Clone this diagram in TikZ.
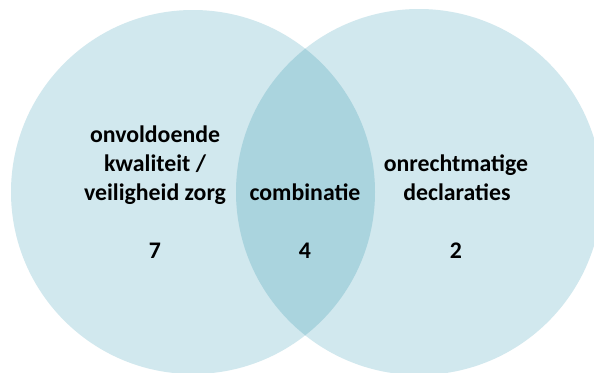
\documentclass[tikz,border=0pt]{standalone}
\usepackage{fontspec}
\setmainfont{Carlito}
\definecolor{venlight}{RGB}{209,232,238}
\definecolor{vendark}{RGB}{170,212,222}
\begin{document}
\begin{tikzpicture}[x=1pt,y=-1pt,
  lbl/.style={font=\fontsize{23.8}{29}\selectfont\bfseries, align=center, inner sep=0pt, anchor=base},
  circ/.style={fill=venlight, draw=none}]
\useasboundingbox (0,0) rectangle (594,372);
\fill[white] (0,0) rectangle (594,372);
\path[circ] (193,192) circle[radius=182];
\path[circ] (419,192) circle[radius=183];
\begin{scope}
  \clip (193,192) circle[radius=182];
  \fill[vendark] (419,192) circle[radius=183];
\end{scope}
\node[lbl] (l1) at (155,142) {onvoldoende};
\node[lbl] (l2) at (155,171) {kwaliteit /};
\node[lbl] (l3) at (155,200) {veiligheid zorg};
\node[lbl] (c1) at (305,200) {combinatie};
\node[lbl] (r1) at (456,171) {onrechtmatige};
\node[lbl] (r2) at (457,200) {declaraties};
\node[lbl] (n1) at (155,258) {7};
\node[lbl] (n2) at (305,258) {4};
\node[lbl] (n3) at (456,258) {2};
\end{tikzpicture}
\end{document}
